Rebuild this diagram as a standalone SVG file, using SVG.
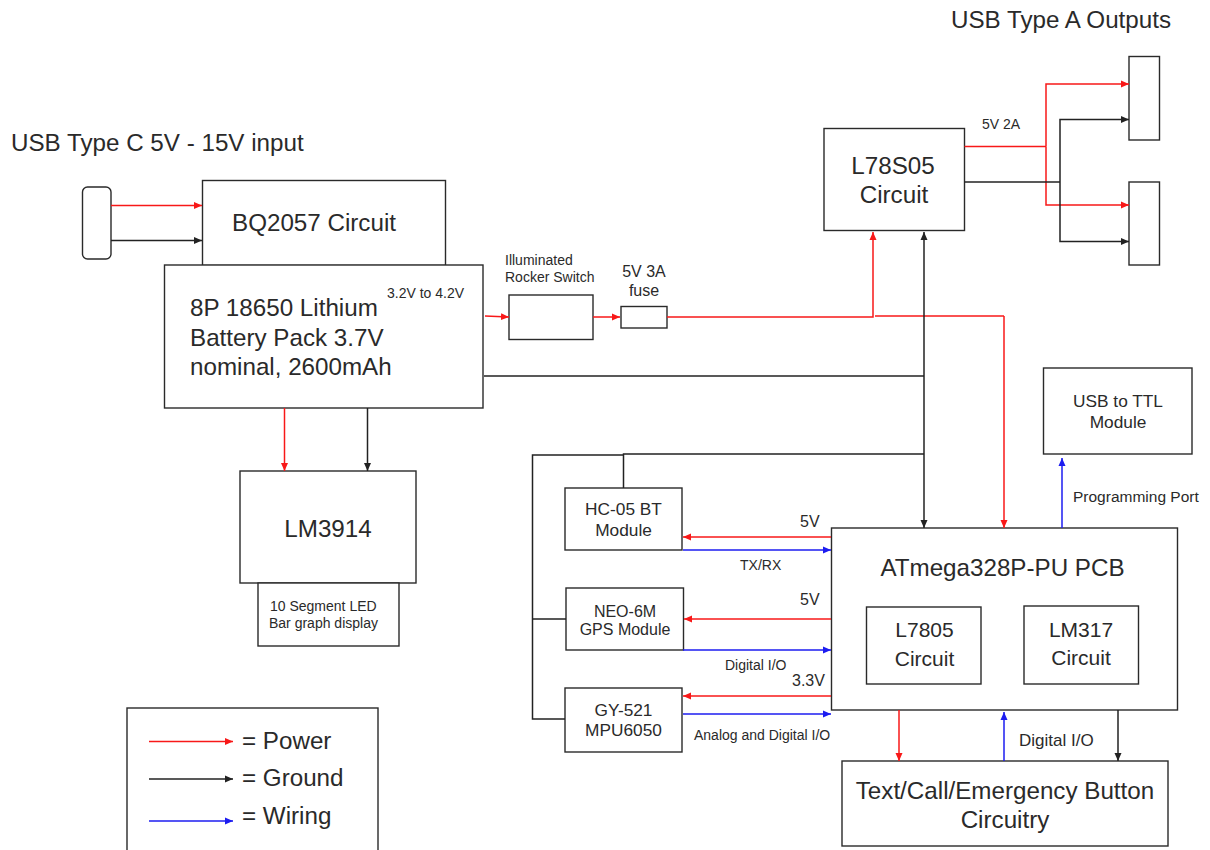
<svg xmlns="http://www.w3.org/2000/svg" width="1210" height="850" viewBox="0 0 1210 850">
<style>
text{font-family:"Liberation Sans",Arial,sans-serif;fill:#2a2a2a}
.b{fill:#fff;stroke:#2a2a2a;stroke-width:1.4}
.c{fill:none;stroke-width:1.5}
.r{stroke:#f81818;marker-end:url(#mr)}
.k{stroke:#222;marker-end:url(#mk)}
.u{stroke:#1c1cf0;marker-end:url(#mu)}
.rn{stroke:#f81818}
.kn{stroke:#222}
.t24{font-size:24.2px}
.t21{font-size:21px}
.t17{font-size:17.3px}
.t16{font-size:16px}
.t14{font-size:14px}
.m{text-anchor:middle}
</style>
<defs>
<marker id="mr" markerUnits="userSpaceOnUse" markerWidth="9" markerHeight="8" refX="8" refY="4" orient="auto"><path d="M0 0.5L8 4L0 7.500Z" fill="#f81818"/></marker>
<marker id="mk" markerUnits="userSpaceOnUse" markerWidth="9" markerHeight="8" refX="8" refY="4" orient="auto"><path d="M0 0.5L8 4L0 7.500Z" fill="#222"/></marker>
<marker id="mu" markerUnits="userSpaceOnUse" markerWidth="9" markerHeight="8" refX="8" refY="4" orient="auto"><path d="M0 0.5L8 4L0 7.500Z" fill="#1c1cf0"/></marker>
<marker id="mks" markerUnits="userSpaceOnUse" markerWidth="9" markerHeight="8" refX="8" refY="4" orient="auto-start-reverse"><path d="M0 0.5L8 4L0 7.500Z" fill="#222"/></marker>
</defs>

<text x="11" y="151" class="t24">USB Type C 5V - 15V input</text>
<text x="951" y="28" class="t24">USB Type A Outputs</text>

<g id="nodes">
<g id="usbc"><rect class="b" x="82.500" y="187" width="28.500" height="72" rx="5"/></g>
<g id="bq2057"><rect class="b" x="202.500" y="180.500" width="243" height="85"/><text x="232" y="231" class="t24">BQ2057 Circuit</text></g>
<g id="battery"><rect class="b" x="164.500" y="265" width="318.500" height="143"/>
<text x="190" y="316" class="t24">8P 18650 Lithium</text><text x="190" y="346" class="t24">Battery Pack 3.7V</text><text x="190" y="375" class="t24">nominal, 2600mAh</text>
<text x="387" y="298" class="t14">3.2V to 4.2V</text></g>
<g id="lm3914"><rect class="b" x="240" y="471" width="176" height="112"/><text x="328" y="537" class="t24 m">LM3914</text></g>
<g id="led"><rect class="b" x="258" y="583" width="141" height="63"/><text x="270" y="611" class="t14">10 Segment LED</text><text x="269" y="628" class="t14">Bar graph display</text></g>
<g id="switch"><rect class="b" x="509" y="295" width="84" height="44.500"/></g>
<g id="fuse"><rect class="b" x="621" y="306.500" width="46" height="21.500"/></g>
<text x="505" y="265" class="t14">Illuminated</text><text x="505" y="282" class="t14">Rocker Switch</text>
<text x="644" y="277" class="t16 m">5V 3A</text><text x="644" y="296" class="t16 m">fuse</text>
<g id="l78s05"><rect class="b" x="824" y="128.500" width="140.500" height="102"/><text x="893" y="174" class="t24 m">L78S05</text><text x="894" y="203" class="t24 m">Circuit</text></g>
<g id="usba1"><rect class="b" x="1129" y="56.500" width="30.500" height="83.500"/></g>
<g id="usba2"><rect class="b" x="1129" y="182" width="30.500" height="83"/></g>
<g id="hc05"><rect class="b" x="565" y="488" width="117" height="62"/><text x="623.500" y="515" class="t17 m">HC-05 BT</text><text x="623.500" y="536" class="t17 m">Module</text></g>
<g id="neo6m"><rect class="b" x="566" y="588" width="117.500" height="62"/><text x="625" y="617" class="t16 m">NEO-6M</text><text x="625" y="635" class="t16 m">GPS Module</text></g>
<g id="gy521"><rect class="b" x="565" y="688" width="117" height="64"/><text x="623.500" y="716" class="t17 m">GY-521</text><text x="623.500" y="736" class="t17 m">MPU6050</text></g>
<g id="atmega"><rect class="b" x="831.500" y="528" width="346" height="182"/><text x="1002.500" y="576" class="t24 m">ATmega328P-PU PCB</text></g>
<g id="l7805"><rect class="b" x="866.500" y="607" width="114.500" height="77"/><text x="924.500" y="637" class="t21 m">L7805</text><text x="924.500" y="666" class="t21 m">Circuit</text></g>
<g id="lm317"><rect class="b" x="1024" y="606" width="114.500" height="78"/><text x="1081" y="637" class="t21 m">LM317</text><text x="1081" y="665" class="t21 m">Circuit</text></g>
<g id="usbttl"><rect class="b" x="1043.500" y="368" width="148.500" height="86"/><text x="1118" y="407" class="t17 m">USB to TTL</text><text x="1118" y="428" class="t17 m">Module</text></g>
<g id="buttons"><rect class="b" x="842" y="761" width="326" height="85"/><text x="1005" y="799" class="t24 m">Text/Call/Emergency Button</text><text x="1005" y="828" class="t24 m">Circuitry</text></g>
<g id="legend"><rect class="b" x="127" y="708" width="251" height="150"/>
<text x="242" y="749" class="t24">= Power</text><text x="242" y="786" class="t24">= Ground</text><text x="242" y="824" class="t24">= Wiring</text></g>
</g>

<g id="connectors">
<path class="c r" d="M111 205.500H202"/>
<path class="c k" d="M111 240.500H202"/>
<path class="c r" d="M485 316L509 317"/>
<path class="c r" d="M593 317H620"/>
<path class="c r" d="M667 317H873V232"/>
<path class="c rn" d="M875 316H1004"/>
<path class="c r" d="M1004 316V528"/>
<path class="c kn" d="M484 376H924"/>
<path class="c k" d="M924 528V232" style="marker-start:url(#mks)"/>
<path class="c kn" d="M623.500 488V454H924"/>
<path class="c kn" d="M623 455H532.500V719H565M532.500 619H566"/>
<path class="c r" d="M284.500 408V471"/>
<path class="c k" d="M367.500 408V471"/>
<path class="c rn" d="M964.500 146.500H1046"/>
<path class="c r" d="M1046 146.500V84H1129"/>
<path class="c r" d="M1046 146.500V205H1129"/>
<path class="c kn" d="M964.500 182H1060"/>
<path class="c k" d="M1060 182V119.500H1129"/>
<path class="c k" d="M1060 182V241.500H1129"/>
<path class="c r" d="M831 537H683"/>
<path class="c u" d="M683 550H831"/>
<path class="c r" d="M831 619H684"/>
<path class="c u" d="M683 650H831"/>
<path class="c r" d="M831 696H683"/>
<path class="c u" d="M683 714H831"/>
<path class="c u" d="M1062 528V458"/>
<path class="c r" d="M899 710V761"/>
<path class="c u" d="M1004 761V712"/>
<path class="c k" d="M1118 710V761"/>
<path class="c r" d="M149 741.500H233"/>
<path class="c k" d="M149 779H233"/>
<path class="c u" d="M149 821H233"/>
</g>

<text x="982" y="129" class="t14">5V 2A</text>
<text x="800" y="527" class="t16">5V</text>
<text x="740" y="570" class="t14">TX/RX</text>
<text x="800" y="605" class="t16">5V</text>
<text x="725" y="670" class="t14">Digital I/O</text>
<text x="792" y="686" class="t16">3.3V</text>
<text x="694" y="740" class="t14">Analog and Digital I/O</text>
<text x="1073" y="502" style="font-size:15.5px">Programming Port</text>
<text x="1019" y="746" style="font-size:17px">Digital I/O</text>
</svg>
